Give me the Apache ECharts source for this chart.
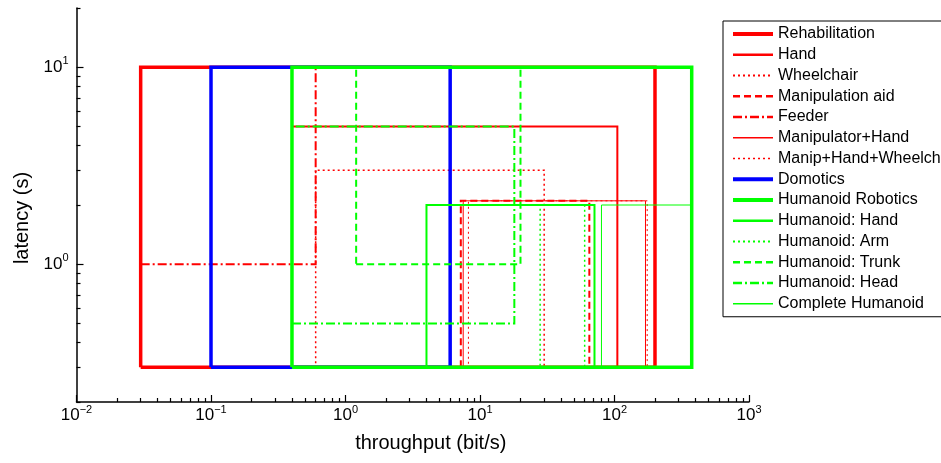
<!DOCTYPE html>
<html>
<head>
<meta charset="utf-8">
<script src="https://cdn.jsdelivr.net/npm/echarts@6/dist/echarts.min.js"></script>
<style>
html, body { margin: 0; padding: 0; background: #fff; }
#chart { width: 941px; height: 463px; }
</style>
</head>
<body>
<div id="chart"></div>
<script>
// each application is a box: throughput range (x) by latency range (y)
var names = ['Rehabilitation', 'Hand', 'Wheelchair', 'Manipulation aid', 'Feeder',
    'Manipulator+Hand', 'Manip+Hand+Wheelch', 'Domotics', 'Humanoid Robotics',
    'Humanoid: Hand', 'Humanoid: Arm', 'Humanoid: Trunk', 'Humanoid: Head', 'Complete Humanoid'];
var xMin = [0.03, 0.4, 0.6, 7.2, 0.03, 7.5, 8.2, 0.1, 0.4, 4, 28, 1.2, 0.4, 80];
var xMax = [200, 105, 30, 65, 0.6, 170, 175, 6, 375, 71, 60, 20, 18, 375];
var yMin = [0.3, 0.3, 0.3, 0.3, 1, 0.3, 0.3, 0.3, 0.3, 0.3, 0.3, 1, 0.5, 0.3];
var yMax = [10, 5, 3, 2.1, 10, 2.1, 2.1, 10, 10, 2, 2, 10, 5, 2];

// tick values
var xMajor = [0.01, 0.1, 1, 10, 100, 1000];
var yMajor = [1, 10];
var xMinor = [0.02, 0.03, 0.04, 0.05, 0.06, 0.07, 0.08, 0.09,
    0.2, 0.3, 0.4, 0.5, 0.6, 0.7, 0.8, 0.9,
    2, 3, 4, 5, 6, 7, 8, 9,
    20, 30, 40, 50, 60, 70, 80, 90,
    200, 300, 400, 500, 600, 700, 800, 900];
var yMinor = [0.2, 0.3, 0.4, 0.5, 0.6, 0.7, 0.8, 0.9, 2, 3, 4, 5, 6, 7, 8, 9, 20];

// line styles
var RED = '#ff0000', BLUE = '#0000ff', GREEN = '#00ff00';
var colors = [RED, RED, RED, RED, RED, RED, RED, BLUE, GREEN, GREEN, GREEN, GREEN, GREEN, GREEN];
var widths = [3.5, 2, 1.5, 2, 2, 1, 1, 3.5, 3.5, 2, 1.5, 2, 2, 1];
var DOT = [2, 3], DASH = [7, 4], DASHDOT = [9, 3, 2, 3];
var dashes = ['solid', 'solid', DOT, DASH, DASHDOT, 'solid', DOT, 'solid', 'solid', 'solid', DOT, DASH, DASHDOT, 'solid'];

var FONT = 'Liberation Sans, Arial, sans-serif';

var sup = {
    b: { fontSize: 17, lineHeight: 17, fontFamily: FONT, color: '#000', verticalAlign: 'bottom' },
    s: { fontSize: 11, lineHeight: 11, fontFamily: FONT, color: '#000', verticalAlign: 'bottom', padding: [0, 0, 9, 0] }
};
function powLabel(v) {
    var e = Math.round(Math.log(v) / Math.LN10);
    return '{b|10}{s|' + (e < 0 ? '\u2212' + (-e) : e) + '}';
}

var series = names.map(function (n, i) {
    return {
        name: n,
        type: 'line',
        symbol: 'none',
        silent: true,
        data: [[xMin[i], yMin[i]], [xMax[i], yMin[i]], [xMax[i], yMax[i]],
               [xMin[i], yMax[i]], [xMin[i], yMin[i]]],
        lineStyle: { color: colors[i], width: widths[i], type: dashes[i], join: 'miter', cap: 'butt' },
        itemStyle: { color: colors[i] }
    };
});

var legendData = names.map(function (n, i) {
    return { name: n, lineStyle: { color: colors[i], width: widths[i] + 0.5, type: dashes[i] } };
});

var myChart = echarts.init(document.getElementById('chart'));

myChart.setOption({
    animation: false,
    textStyle: { fontFamily: FONT },
    grid: { left: 76.5, right: 192, top: 8, bottom: 61, outerBoundsMode: 'none' },
    legend: {
        orient: 'vertical',
        left: 723,
        top: 21,
        padding: [3, 8, 3, 8],
        itemWidth: 40,
        itemHeight: 14,
        itemGap: 0.75,
        borderColor: '#000',
        borderWidth: 1,
        backgroundColor: '#fff',
        selectedMode: false,
        itemStyle: { opacity: 0 },
        textStyle: { fontFamily: FONT, fontSize: 16, lineHeight: 20, color: '#000' },
        data: legendData
    },
    xAxis: [{
        type: 'log',
        min: 0.01,
        max: 1000,
        name: 'throughput (bit/s)',
        nameLocation: 'middle',
        nameGap: 31,
        nameTextStyle: { fontSize: 20, color: '#000', fontFamily: FONT, padding: [0, 0, 0, 36] },
        axisLine: { lineStyle: { color: '#000', width: 1.5 } },
        axisTick: { inside: true, length: 7, customValues: xMajor, lineStyle: { color: '#000', width: 1.2 } },
        axisLabel: { customValues: xMajor, formatter: powLabel, margin: 5, rich: sup },
        splitLine: { show: false }
    }, {
        type: 'log',
        min: 0.01,
        max: 1000,
        position: 'bottom',
        offset: 0,
        axisLine: { show: false },
        axisTick: { inside: true, length: 4, customValues: xMinor, lineStyle: { color: '#000', width: 1.2 } },
        axisLabel: { show: false },
        splitLine: { show: false }
    }],
    yAxis: [{
        type: 'log',
        min: 0.2,
        max: 20,
        name: 'latency (s)',
        nameLocation: 'middle',
        nameGap: 44,
        nameTextStyle: { fontSize: 20, color: '#000', fontFamily: FONT, padding: [0, 26, 0, 0] },
        axisLine: { lineStyle: { color: '#000', width: 1.5 } },
        axisTick: { inside: true, length: 7, customValues: yMajor, lineStyle: { color: '#000', width: 1.2 } },
        axisLabel: { customValues: yMajor, formatter: powLabel, margin: 8, rich: sup },
        splitLine: { show: false }
    }, {
        type: 'log',
        min: 0.2,
        max: 20,
        position: 'left',
        offset: 0,
        axisLine: { show: false },
        axisTick: { inside: true, length: 4, customValues: yMinor, lineStyle: { color: '#000', width: 1.2 } },
        axisLabel: { show: false },
        splitLine: { show: false }
    }],
    series: series
});
</script>
</body>
</html>
